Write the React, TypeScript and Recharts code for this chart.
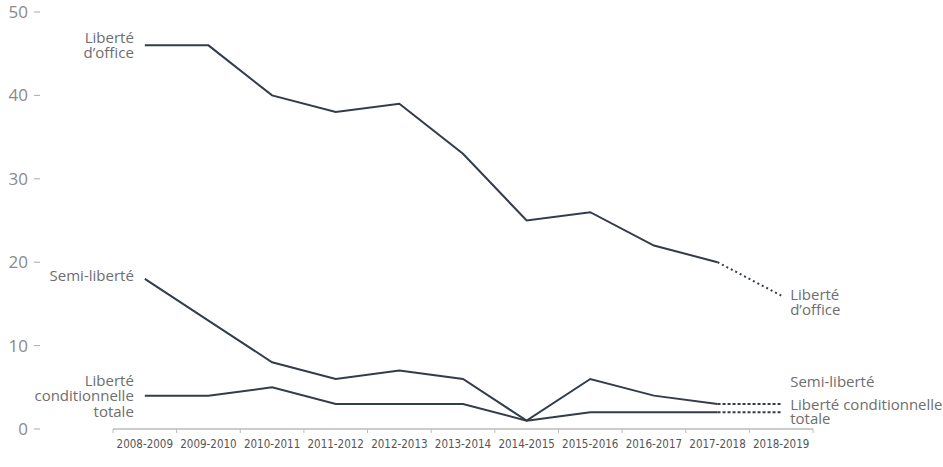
import { LineChart, Line, XAxis, YAxis } from "recharts";

const categories = [
  "2008-2009",
  "2009-2010",
  "2010-2011",
  "2011-2012",
  "2012-2013",
  "2013-2014",
  "2014-2015",
  "2015-2016",
  "2016-2017",
  "2017-2018",
  "2018-2019",
];

const liberteOffice = [46, 46, 40, 38, 39, 33, 25, 26, 22, 20, null];
const liberteOfficeProj = [null, null, null, null, null, null, null, null, null, 20, 16];
const semiLiberte = [18, 13, 8, 6, 7, 6, 1, 6, 4, 3, null];
const semiLiberteProj = [null, null, null, null, null, null, null, null, null, 3, 3];
const condTotale = [4, 4, 5, 3, 3, 3, 1, 2, 2, 2, null];
const condTotaleProj = [null, null, null, null, null, null, null, null, null, 2, 2];

const yTicks = [0, 10, 20, 30, 40, 50];

const data = categories.map((year, i) => ({
  year,
  office: liberteOffice[i],
  officeProj: liberteOfficeProj[i],
  semi: semiLiberte[i],
  semiProj: semiLiberteProj[i],
  cond: condTotale[i],
  condProj: condTotaleProj[i],
}));

const LINE = "#333c4a";
const LABEL = "#6e6e6e";
const FONT = "'Open Sans', 'Noto Sans', sans-serif";
const HALF_BAND = 700 / 11 / 2;

function YTick({ y, payload }: any) {
  return (
    <g>
      <text
        x={28}
        y={y}
        dy={6}
        textAnchor="end"
        fill="#8a8a8a"
        fontSize={17}
        fontFamily={FONT}
      >
        {payload.value}
      </text>
      <line x1={34} x2={40} y1={y} y2={y} stroke="#aaa" strokeWidth={1} />
    </g>
  );
}

function XTick({ x, y, payload, index }: any) {
  const last = index === categories.length - 1;
  return (
    <g>
      <line x1={x - HALF_BAND} x2={x - HALF_BAND} y1={y - 8} y2={y - 4} stroke="#bbb" />
      {last && (
        <line x1={x + HALF_BAND} x2={x + HALF_BAND} y1={y - 8} y2={y - 4} stroke="#bbb" />
      )}
      <text
        x={x}
        y={y + 11}
        textAnchor="middle"
        fill="#555"
        fontSize={11.5}
        fontFamily="'DejaVu Sans Condensed', 'DejaVu Sans', sans-serif"
        fontStretch="condensed"
      >
        {payload.value}
      </text>
    </g>
  );
}

function multiLine(lines: string[], x: number, y: number, anchor: string, step = 15.5) {
  return (
    <text x={x} y={y} textAnchor={anchor} fill={LABEL} fontSize={15} fontFamily={FONT}>
      {lines.map((l, i) => (
        <tspan key={i} x={x} dy={i === 0 ? 0 : step}>
          {l}
        </tspan>
      ))}
    </text>
  );
}

const startLabel = (lines: string[], dy: number, step?: number) => (props: any) => {
  if (props.index !== 0) return null;
  return multiLine(lines, props.x - 11, props.y + dy, "end", step);
};

const endLabel = (lines: string[], dy: number, step?: number) => (props: any) => {
  if (props.index !== categories.length - 1) return null;
  return multiLine(lines, props.x + 9, props.y + dy, "start", step);
};

export default function App() {
  return (
    <div style={{ position: "absolute", left: 0, top: 0, background: "#fff" }}>
      <LineChart
        width={943}
        height={467}
        data={data}
        margin={{ top: 12, right: 130, left: 0, bottom: 6 }}
      >
        <XAxis
          dataKey="year"
          padding={{ left: HALF_BAND, right: HALF_BAND }}
          axisLine={{ stroke: "#bbb", strokeWidth: 1.5 }}
          tickLine={false}
          tick={<XTick />}
          interval={0}
          height={32}
        />
        <YAxis
          domain={[0, 50]}
          ticks={yTicks}
          width={113}
          axisLine={false}
          tickLine={false}
          tick={<YTick />}
        />
        <Line
          dataKey="office"
          stroke={LINE}
          strokeWidth={2}
          dot={false}
          isAnimationActive={false}
          label={startLabel(["Liberté", "d\u2019office"], -2, 14.5)}
        />
        <Line
          dataKey="officeProj"
          stroke={LINE}
          strokeWidth={2}
          strokeDasharray="2 3"
          dot={false}
          isAnimationActive={false}
          label={endLabel(["Liberté", "d\u2019office"], 4, 15.5)}
        />
        <Line
          dataKey="semi"
          stroke={LINE}
          strokeWidth={2}
          dot={false}
          isAnimationActive={false}
          label={startLabel(["Semi-liberté"], 2)}
        />
        <Line
          dataKey="semiProj"
          stroke={LINE}
          strokeWidth={2}
          strokeDasharray="3 2"
          dot={false}
          isAnimationActive={false}
          label={endLabel(["Semi-liberté"], -17)}
        />
        <Line
          dataKey="cond"
          stroke={LINE}
          strokeWidth={2}
          dot={false}
          isAnimationActive={false}
          label={startLabel(["Liberté", "conditionnelle", "totale"], -10)}
        />
        <Line
          dataKey="condProj"
          stroke={LINE}
          strokeWidth={2}
          strokeDasharray="3 2"
          dot={false}
          isAnimationActive={false}
          label={endLabel(["Liberté conditionnelle", "totale"], -2, 14)}
        />
      </LineChart>
    </div>
  );
}
